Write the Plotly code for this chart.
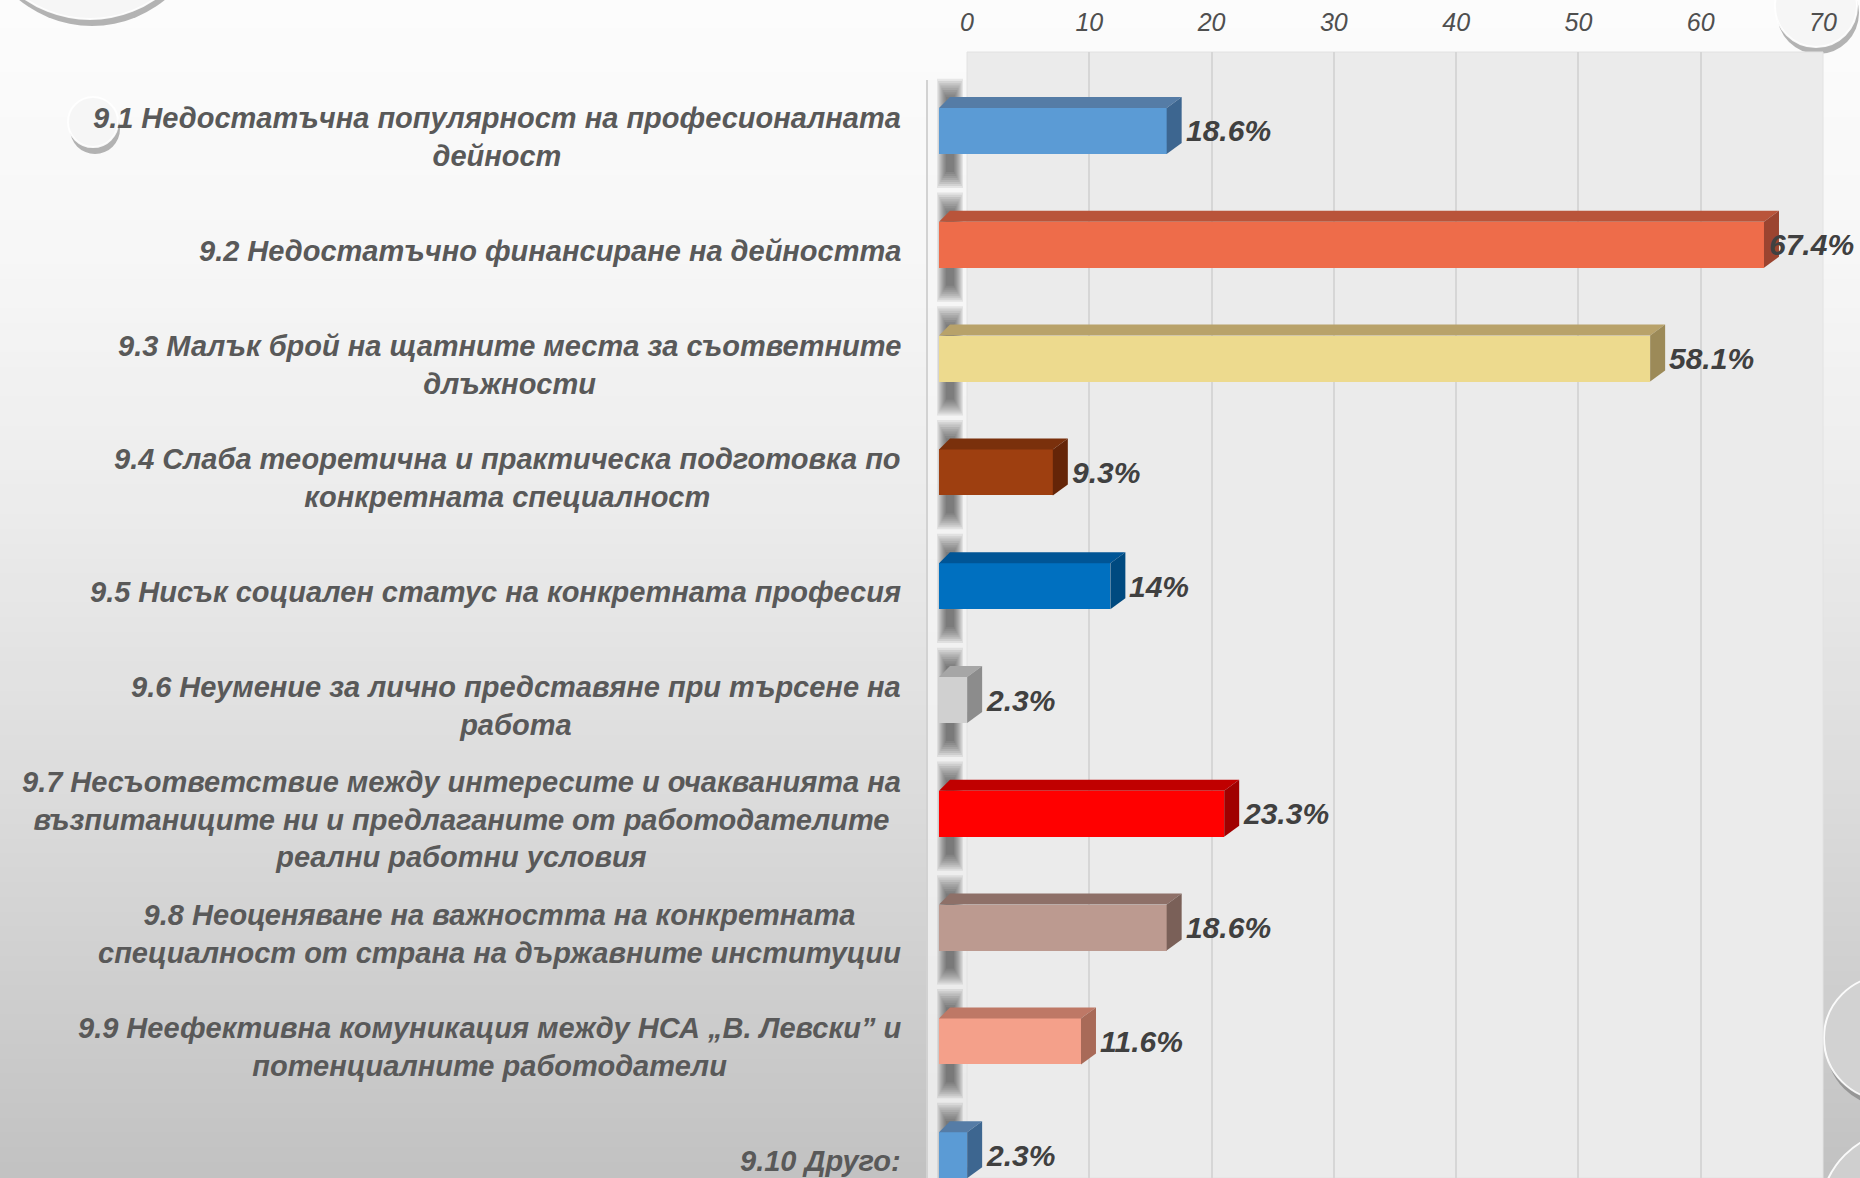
import plotly.graph_objects as go

# ---------------- data ----------------
categories = [
    "9.1 Недостатъчна популярност на професионалната<br>дейност",
    "9.2 Недостатъчно финансиране на дейността",
    "9.3 Малък брой на щатните места за съответните<br>длъжности",
    "9.4 Слаба теоретична и практическа подготовка по<br>конкретната специалност",
    "9.5 Нисък социален статус на конкретната професия",
    "9.6 Неумение за лично представяне при търсене на<br>работа",
    "9.7 Несъответствие между интересите и очакванията на<br>възпитаниците ни и предлаганите от работодателите<br>реални работни условия",
    "9.8 Неоценяване на важността на конкретната<br>специалност от страна на държавните институции",
    "9.9 Неефективна комуникация между НСА „В. Левски” и<br>потенциалните работодатели",
    "9.10 Друго:",
]
values = [18.6, 67.4, 58.1, 9.3, 14, 2.3, 23.3, 18.6, 11.6, 2.3]
value_labels = ["18.6%", "67.4%", "58.1%", "9.3%", "14%", "2.3%", "23.3%", "18.6%", "11.6%", "2.3%"]
tick_values = [0, 10, 20, 30, 40, 50, 60, 70]
tick_labels = ["0", "10", "20", "30", "40", "50", "60", "70"]

front_colors = ["#5B9BD5", "#EE6C4A", "#EDDA8E", "#9E3F10", "#0070C0",
                "#D0D0D0", "#FF0000", "#BC9A90", "#F4A08A", "#5B9BD5"]
top_colors = ["#557CA6", "#B9543A", "#B8A26A", "#7A300C", "#005596",
              "#A6A6A6", "#C00000", "#8E7068", "#BE7866", "#557CA6"]
side_colors = ["#3D6690", "#9B4430", "#9C8A58", "#652508", "#004A80",
               "#8C8C8C", "#A00000", "#7A6058", "#A86A58", "#3D6690"]

# ---------------- geometry (pixels) ----------------
W, H = 1860, 1178
PX_PER_UNIT = 12.24
FRONT_X0 = 939
BACK_X0, BACK_X1 = 967, 1823
PLOT_TOP = 52
ROW = 113.8
FIRST_CENTER = 131

n = len(values)
y_top = -(FIRST_CENTER - PLOT_TOP) / ROW
y_bot = y_top + (H - PLOT_TOP) / ROW
bar_w = 46 / ROW
dy = 11 / ROW
dx_left = 11 / PX_PER_UNIT
dx_right = 15 / PX_PER_UNIT
label_x_max = (1765 - FRONT_X0) / PX_PER_UNIT  # keep value labels inside the canvas

LABEL_FONT = "Liberation Sans, Arial, sans-serif"

fig = go.Figure()
ypos = list(range(n))

# invisible trace on the back-plane axis (ticks + grid)
fig.add_trace(go.Scatter(x=[0, 70], y=[y_top, y_top], mode="markers",
                         marker=dict(opacity=0), xaxis="x", yaxis="y",
                         hoverinfo="skip", showlegend=False))

# front faces on the front-plane axis
fig.add_trace(go.Bar(
    x=values, y=ypos, orientation="h", width=bar_w,
    marker=dict(color=front_colors, line=dict(width=0)),
    xaxis="x2", yaxis="y", hoverinfo="skip", showlegend=False,
))

# top and side faces (3D effect)
for i, v in enumerate(values):
    yt = i - bar_w / 2
    yb = i + bar_w / 2
    fig.add_trace(go.Scatter(
        x=[0, v, v + dx_right, dx_left, 0],
        y=[yt, yt, yt - dy, yt - dy, yt],
        fill="toself", fillcolor=top_colors[i], mode="lines",
        line=dict(width=0), hoverinfo="skip", showlegend=False,
        xaxis="x2", yaxis="y",
    ))
    fig.add_trace(go.Scatter(
        x=[v, v + dx_right, v + dx_right, v, v],
        y=[yt, yt - dy, yb - dy, yb, yt],
        fill="toself", fillcolor=side_colors[i], mode="lines",
        line=dict(width=0), hoverinfo="skip", showlegend=False,
        xaxis="x2", yaxis="y",
    ))

shapes = []
# background gradient
stops = [(0, 252), (250, 247), (500, 236), (750, 222), (1000, 206), (1178, 194)]
def gray_at(yp):
    for (y0, g0), (y1, g1) in zip(stops[:-1], stops[1:]):
        if y0 <= yp <= y1:
            return g0 + (g1 - g0) * (yp - y0) / (y1 - y0)
    return stops[-1][1]
nb = 80
for k in range(nb):
    y0p = H * k / nb
    y1p = H * (k + 1) / nb
    g = int(round(gray_at((y0p + y1p) / 2)))
    shapes.append(dict(type="rect", xref="paper", yref="paper",
                       x0=-0.01, x1=1.01, y0=1 - y1p / H, y1=1 - y0p / H + 0.001,
                       fillcolor=f"rgb({g},{g},{g})", line=dict(width=0), layer="below"))

# decorative circles
def circle(cx, cy, r, fill="#F6F6F6"):
    shapes.append(dict(type="circle", xref="paper", yref="paper",
                       x0=(cx - r + 2) / W, x1=(cx + r + 2) / W,
                       y0=1 - (cy + r + 7) / H, y1=1 - (cy - r + 7) / H,
                       fillcolor="rgba(90,90,90,0.45)", line=dict(width=0), layer="below"))
    shapes.append(dict(type="circle", xref="paper", yref="paper",
                       x0=(cx - r) / W, x1=(cx + r) / W,
                       y0=1 - (cy + r) / H, y1=1 - (cy - r) / H,
                       fillcolor=fill, line=dict(color="rgba(255,255,255,0.9)", width=2), layer="below"))

circle(90, -96, 115)
circle(93, 122, 25)
circle(1816, 6, 41)
circle(1886, 1038, 62, fill="#D2D2D2")
circle(1905, 1215, 85, fill="#CFCFCF")

# side wall strip
shapes.append(dict(type="rect", xref="paper", yref="paper",
                   x0=927 / W, x1=BACK_X0 / W, y0=0, y1=1 - 80 / H,
                   fillcolor="rgba(245,245,245,0.75)", line=dict(width=0), layer="below"))
shapes.append(dict(type="line", xref="paper", yref="paper",
                   x0=927 / W, x1=927 / W, y0=0, y1=1 - 80 / H,
                   line=dict(color="#D2D2D2", width=2), layer="below"))
# back wall
shapes.append(dict(type="rect", xref="paper", yref="paper",
                   x0=BACK_X0 / W, x1=BACK_X1 / W, y0=0, y1=1 - PLOT_TOP / H,
                   fillcolor="#EBEBEB", line=dict(color="#E2E2E2", width=1), layer="below"))

# blurred dark shadows on the side wall next to each bar
layers = 9
for i in range(n):
    for k in range(layers):
        t = k / (layers - 1)
        hw = 13 - 9 * t
        ext_t = 0.46 - 0.16 * t
        ext_b = 0.50 - 0.14 * t
        cx = 950
        shapes.append(dict(type="rect", xref="paper", yref="y",
                           x0=(cx - hw) / W, x1=(cx + hw) / W,
                           y0=i - ext_t, y1=i + ext_b,
                           fillcolor="rgba(30,30,30,0.085)", line=dict(width=0),
                           layer="below"))

annotations = []
for i, (cat, v, lab) in enumerate(zip(categories, values, value_labels)):
    annotations.append(dict(
        x=903 / W, xref="paper", y=i, yref="y", yshift=-6,
        text=cat, showarrow=False, xanchor="right", yanchor="middle", align="center",
        font=dict(family=LABEL_FONT, size=29, color="#595959", weight="bold", style="italic"),
    ))
    annotations.append(dict(
        x=min(v + dx_right, label_x_max), xref="x2", y=i, yref="y", xshift=2,
        text=lab, showarrow=False, xanchor="left", yanchor="middle",
        font=dict(family=LABEL_FONT, size=30, color="#404040", weight="bold", style="italic"),
    ))

front_x1 = FRONT_X0 + 70 * PX_PER_UNIT
fig.update_layout(
    width=W, height=H,
    margin=dict(l=0, r=0, t=0, b=0, pad=0, autoexpand=False),
    paper_bgcolor="#F4F4F4",
    plot_bgcolor="rgba(0,0,0,0)",
    showlegend=False,
    xaxis=dict(domain=[BACK_X0 / W, BACK_X1 / W], range=[0, 70], anchor="y", side="top",
               tickmode="array", tickvals=tick_values, ticktext=tick_labels,
               showgrid=True, gridcolor="#D6D6D6", gridwidth=2, zeroline=False,
               showline=False, ticks="", ticklabelstandoff=15, fixedrange=True,
               automargin=False,
               tickfont=dict(family=LABEL_FONT, size=25, color="#4F4F4F", style="italic")),
    xaxis2=dict(domain=[FRONT_X0 / W, front_x1 / W], range=[0, 70], visible=False,
                anchor="y", fixedrange=True, automargin=False),
    yaxis=dict(domain=[0, 1 - PLOT_TOP / H], range=[y_bot, y_top], visible=False,
               fixedrange=True, automargin=False),
    shapes=shapes,
    annotations=annotations,
    bargap=0,
)

fig.write_html("out.html", config={"displayModeBar": False},
               post_script="document.body.style.margin='0px';document.body.style.overflow='hidden';")
